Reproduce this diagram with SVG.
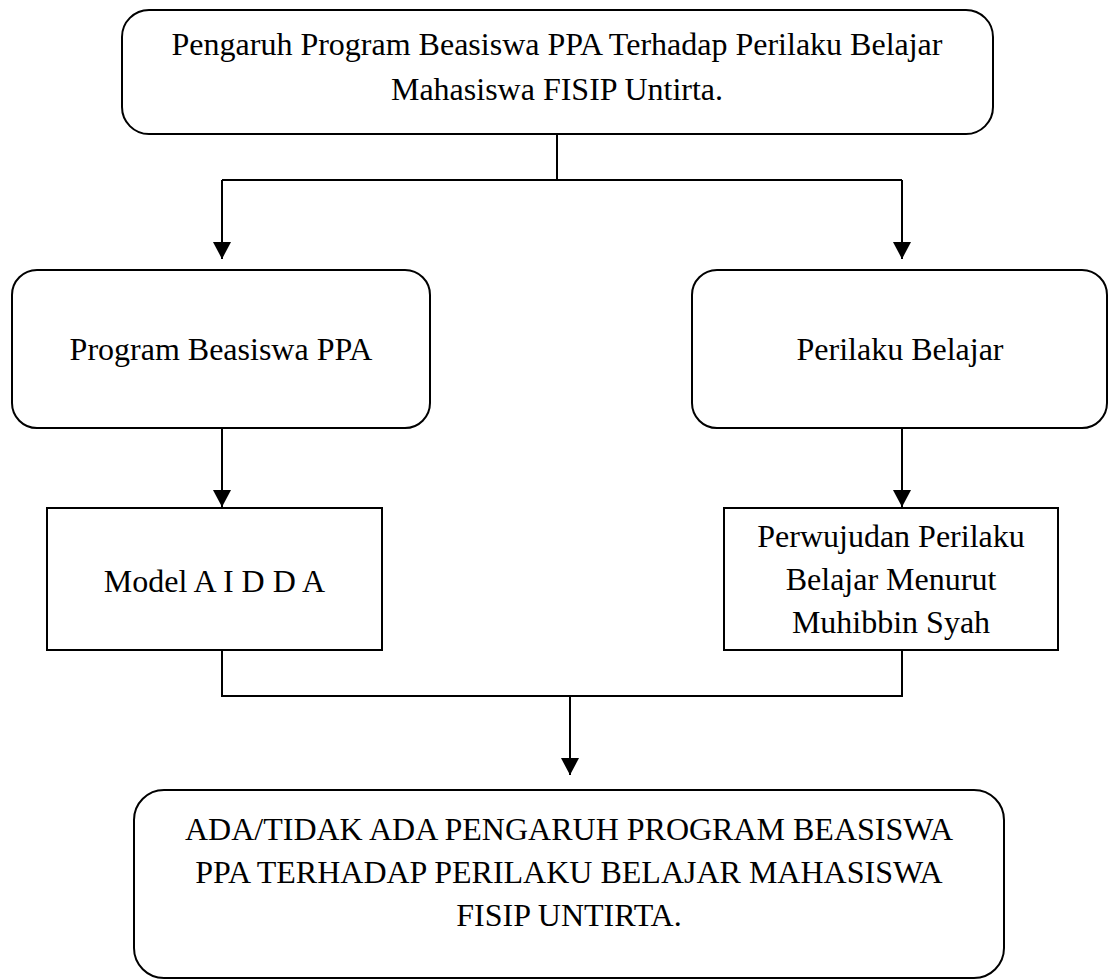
<svg xmlns="http://www.w3.org/2000/svg" width="1108" height="980" viewBox="0 0 1108 980">
<style>
.box{fill:#fff;stroke:#000;stroke-width:2}
.t{font-family:"Liberation Serif","Times New Roman",serif;font-size:32px;fill:#000;text-anchor:middle}
.c{fill:none;stroke:#000;stroke-width:2}
</style>
<defs>
<marker id="ah" markerUnits="userSpaceOnUse" markerWidth="18" markerHeight="18" viewBox="0 0 16 17" refX="16" refY="8.5" orient="auto">
<path d="M0,0 L16,8.5 L0,17 Z" fill="#000"/>
</marker>
</defs>
<rect width="1108" height="980" fill="#fff"/>
<g id="connectors">
<path class="c" d="M557,134 V180 M222,180 H902"/>
<path class="c" d="M222,180 V259" marker-end="url(#ah)"/>
<path class="c" d="M902,180 V259" marker-end="url(#ah)"/>
<path class="c" d="M222,428 V507" marker-end="url(#ah)"/>
<path class="c" d="M902,428 V507" marker-end="url(#ah)"/>
<path class="c" d="M222,650 V696 H902 V650"/>
<path class="c" d="M570,696 V775" marker-end="url(#ah)"/>
</g>
<g id="node-top">
<rect class="box" x="122" y="10" width="871" height="124" rx="27" ry="27"/>
<text class="t" x="557" y="55">Pengaruh Program Beasiswa PPA Terhadap Perilaku Belajar</text>
<text class="t" x="557" y="100">Mahasiswa FISIP Untirta.</text>
</g>
<g id="node-program">
<rect class="box" x="12" y="270" width="418" height="158" rx="25" ry="25"/>
<text class="t" x="221" y="360">Program Beasiswa PPA</text>
</g>
<g id="node-perilaku">
<rect class="box" x="692" y="270" width="415" height="158" rx="25" ry="25"/>
<text class="t" x="900" y="360">Perilaku Belajar</text>
</g>
<g id="node-aidda">
<rect class="box" x="47" y="508" width="335" height="142"/>
<text class="t" x="214.5" y="592">Model A I D D A</text>
</g>
<g id="node-perwujudan">
<rect class="box" x="724" y="508" width="334" height="142"/>
<text class="t" x="891" y="547">Perwujudan Perilaku</text>
<text class="t" x="891" y="590">Belajar Menurut</text>
<text class="t" x="891" y="633">Muhibbin Syah</text>
</g>
<g id="node-result">
<rect class="box" x="134" y="790" width="870" height="188" rx="30" ry="30"/>
<text class="t" x="569" y="840">ADA/TIDAK ADA PENGARUH PROGRAM BEASISWA</text>
<text class="t" x="569" y="883">PPA TERHADAP PERILAKU BELAJAR MAHASISWA</text>
<text class="t" x="569" y="926">FISIP UNTIRTA.</text>
</g>
</svg>
